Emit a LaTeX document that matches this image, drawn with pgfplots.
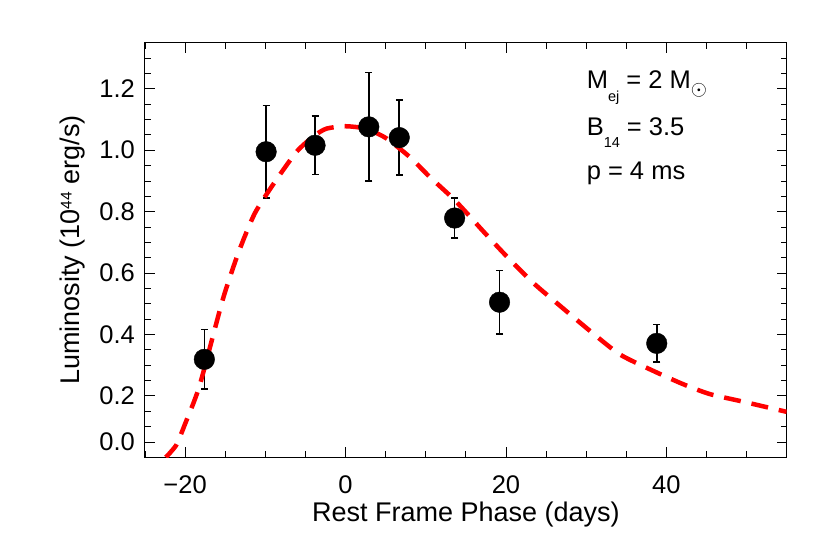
\documentclass[border=0pt]{standalone}
\usepackage{pgfplots}
\pgfplotsset{compat=1.18}
\usepackage{graphicx}
\usepackage{fontspec}
\setmainfont{Liberation Sans}

\newcommand{\lbl}{\fontsize{25.5}{30}\selectfont}
\newcommand{\axl}{\fontsize{27}{32}\selectfont}
\newcommand{\sub}[1]{\raisebox{-12.7pt}{\fontsize{14.5}{16}\selectfont #1}}

\begin{document}
\begin{tikzpicture}[font=\lbl]
\begin{axis}[
  at={(0,0)}, anchor=south west,
  scale only axis, width=641.7pt, height=414.6pt,
  xmin=-25, xmax=55, ymin=0, ymax=1.35,
  xtick={-20,0,20,40}, xticklabels={−20,0,20,40},
  minor xtick={-25,-20,...,55},
  ytick={0.05,0.2,0.4,0.6,0.8,1.0,1.2},
  yticklabels={0.0,0.2,0.4,0.6,0.8,1.0,1.2},
  minor ytick={0.05,0.1,...,1.35},
  tick align=inside,
  major tick length=10pt, minor tick length=6pt,
  every tick/.style={black, line width=0.8pt},
  axis line style={line width=1pt},
  xticklabel style={inner sep=0pt, anchor=north, yshift=-18pt, font=\lbl},
  yticklabel style={inner sep=0pt, anchor=east, xshift=-10pt, font=\lbl},
  xlabel={Rest Frame Phase (days)},
  ylabel={Luminosity (10\raisebox{8.3pt}{\fontsize{15.5}{16}\selectfont 44} erg/s)},
  xlabel style={at={(axis description cs:0.5,-0.1553)}, anchor=base, font=\axl, inner sep=0pt},
  ylabel style={at={(axis description cs:-0.1013,0.5)}, anchor=base, font=\axl, inner sep=0pt},
]

% observed points
\addplot[only marks, mark=*, mark size=10.3pt, black,
  error bars/.cd, y dir=both, y explicit,
  error bar style={line width=1.6pt, black},
  error mark options={rotate=90, line width=1.6pt, mark size=3.5pt, black}]
coordinates {
  (-17.6,0.319) +- (0,0.097)
  (-9.9,0.995) +- (0,0.150)
  (-3.8,1.016) +- (0,0.095)
  (2.9,1.076) +- (0,0.177)
  (6.7,1.041) +- (0,0.122)
  (13.6,0.779) +- (0,0.065)
  (19.2,0.505) +- (0,0.103)
  (38.8,0.371) +- (0,0.061)
};

% magnetar model
\addplot[red, line width=4.5pt, dash pattern=on 17pt off 11pt, smooth, tension=0.4]
coordinates {
  (-22.4,0) (-21.1,0.04) (-20.0,0.109) (-18.2,0.233) (-15.3,0.514)
  (-13.3,0.67) (-11.3,0.795) (-8.8,0.897) (-6.1,0.995) (-4,1.045)
  (-2.4,1.070) (0,1.078) (2.5,1.07) (5,1.04) (8.0,0.978) (10.5,0.913)
  (13.4,0.843) (15.3,0.79) (17.2,0.735) (20.1,0.654) (23.4,0.568)
  (26.3,0.503) (30.5,0.411) (34.2,0.335) (38.4,0.281) (42.1,0.238)
  (45.4,0.206) (49.6,0.181) (55,0.148)
};

\node[anchor=base west, inner sep=0pt] at (axis cs:30.05,1.2)
  {M\sub{ej} = 2 M\raisebox{-7.2pt}{\fontsize{22}{22}\selectfont$\odot$}};
\node[anchor=base west, inner sep=0pt] at (axis cs:30.05,1.049) {B\sub{14} = 3.5};
\node[anchor=base west, inner sep=0pt] at (axis cs:30.05,0.903) {p = 4 ms};
\end{axis}
\path (-145pt,-92.7pt) rectangle (685pt,457.3pt);
\end{tikzpicture}
\end{document}
